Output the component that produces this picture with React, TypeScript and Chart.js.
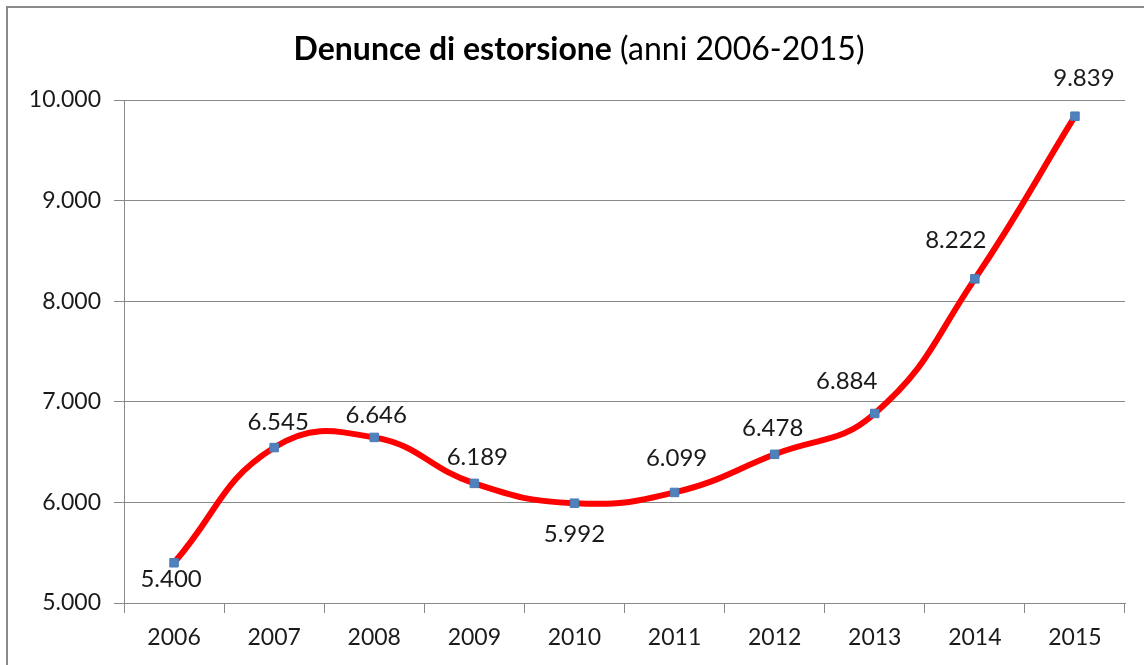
import React, { useEffect, useRef } from "react";
import { Chart, registerables } from "chart.js";

Chart.register(...registerables);

const years = ["2006", "2007", "2008", "2009", "2010", "2011", "2012", "2013", "2014", "2015"];
const denunce = [5400, 6545, 6646, 6189, 5992, 6099, 6478, 6884, 8222, 9839];
const yMin = 5000;
const yMax = 10000;
const yStep = 1000;
const titleBold = "Denunce di estorsione";
const titleNormal = " (anni 2006-2015)";

// label placement relative to each point (dx, dy) in px
const labelOffsets: [number, number][] = [
  [-3, 17], [4, -25], [2, -22], [3, -26], [0, 31],
  [2, -34], [-2, -26], [-28, -32], [-19, -39], [9, -38],
];

const FONT = "Lato, 'Open Sans', sans-serif";
const fmt = (v: number) => String(Math.round(v)).replace(/\B(?=(\d{3})+(?!\d))/g, ".");

const framePlugin = {
  id: "frame",
  beforeDraw(chart: any) {
    const ctx = chart.ctx;
    ctx.save();
    ctx.fillStyle = "#ffffff";
    ctx.fillRect(0, 0, chart.width, chart.height);
    ctx.strokeStyle = "#8a8a8a";
    ctx.lineWidth = 2;
    ctx.beginPath();
    ctx.moveTo(7, chart.height);
    ctx.lineTo(7, 7);
    ctx.lineTo(chart.width, 7);
    ctx.stroke();
    ctx.restore();
  },
  afterDraw(chart: any) {
    const ctx = chart.ctx;
    ctx.save();
    ctx.fillStyle = "#000000";
    ctx.textBaseline = "alphabetic";
    const bFont = `bold 32px ${FONT}`;
    const nFont = `32px ${FONT}`;
    ctx.font = bFont;
    const wb = ctx.measureText(titleBold).width;
    ctx.font = nFont;
    const wn = ctx.measureText(titleNormal).width;
    const cx = 579;
    const x0 = cx - (wb + wn) / 2;
    const y = 60;
    ctx.textAlign = "left";
    ctx.font = bFont;
    ctx.fillText(titleBold, x0, y);
    ctx.font = nFont;
    ctx.fillText(titleNormal, x0 + wb, y);
    ctx.restore();
  },
};

const labelPlugin = {
  id: "pointLabels",
  afterDatasetsDraw(chart: any) {
    const ctx = chart.ctx;
    const meta = chart.getDatasetMeta(0);
    const data = chart.data.datasets[0].data as number[];
    ctx.save();
    ctx.font = `24px ${FONT}`;
    ctx.fillStyle = "#1a1a1a";
    ctx.textAlign = "center";
    ctx.textBaseline = "middle";
    meta.data.forEach((pt: any, i: number) => {
      const [dx, dy] = labelOffsets[i] || [0, -25];
      ctx.fillText(fmt(data[i]), pt.x + dx, pt.y + dy);
    });
    ctx.restore();
  },
};

export default function App() {
  const ref = useRef<HTMLCanvasElement | null>(null);
  useEffect(() => {
    if (!ref.current) return;
    const chart = new Chart(ref.current, {
      type: "line",
      data: {
        labels: years,
        datasets: [
          {
            data: denunce,
            borderColor: "#ff0000",
            borderWidth: 6,
            tension: 0.45,
            pointStyle: "rect",
            pointRadius: 6,
            pointBorderWidth: 1,
            pointBackgroundColor: "#4f81bd",
            pointBorderColor: "#4a7ab5",
            fill: false,
          },
        ],
      },
      options: {
        responsive: false,
        animation: false,
        devicePixelRatio: 1,
        layout: { padding: { left: 0, top: 100, right: 19, bottom: 0 } },
        plugins: {
          legend: { display: false },
          title: { display: false },
          tooltip: { enabled: false },
        },
        scales: {
          x: {
            offset: true,
            grid: {
              offset: true,
              drawOnChartArea: false,
              drawTicks: true,
              tickLength: 10,
              color: "#888888",
            },
            border: { color: "#888888", width: 1 },
            ticks: {
              color: "#1a1a1a",
              font: { family: FONT, size: 23 },
              padding: 11,
              maxRotation: 0,
            },
            afterFit: (s: any) => {
              s.height = 62;
            },
          },
          y: {
            min: yMin,
            max: yMax,
            grid: {
              color: "#888888",
              drawTicks: true,
              tickLength: 10,
            },
            border: { color: "#888888", width: 1 },
            ticks: {
              stepSize: yStep,
              color: "#1a1a1a",
              font: { family: FONT, size: 23 },
              padding: 13,
              callback: (v: any) => fmt(Number(v)),
            },
            afterFit: (s: any) => {
              s.width = 124;
            },
          },
        },
      },
      plugins: [framePlugin, labelPlugin],
    });
    return () => chart.destroy();
  }, []);
  return (
    <div style={{ position: "fixed", left: 0, top: 0, width: 1144, height: 665 }}>
      <canvas ref={ref} width={1144} height={665} style={{ width: 1144, height: 665, display: "block" }} />
    </div>
  );
}
